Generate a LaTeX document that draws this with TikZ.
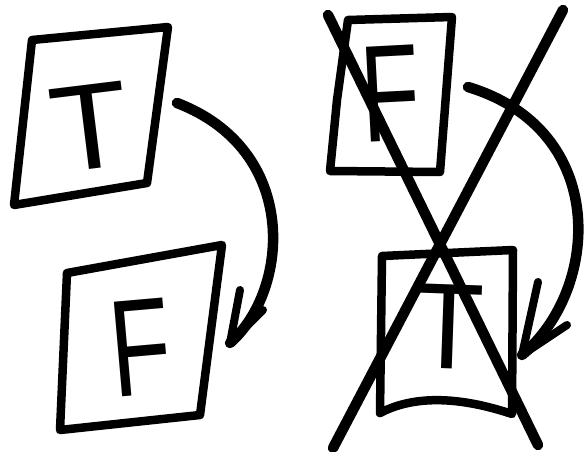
\documentclass[tikz,border=0pt]{standalone}
\usepackage{fontspec}
\setmainfont{Liberation Sans}

\begin{document}
\begin{tikzpicture}[x=1pt,y=-1pt,line cap=round,line join=round,
 card/.style={draw,line width=8.5pt},
 pen/.style={draw,line width=10.5pt},
 letter/.style={inner sep=0pt,font=\fontsize{122}{122}\selectfont}]
 \useasboundingbox (0,0) rectangle (584,452);
 % left: T card flips to F card
 \draw[card] (32,40) -- (168,27) -- (147,183) -- (14,205) -- cycle;
 \node[letter,rotate=7,xscale=1.05] (lt) at (90,127) {T};
 \draw[card] (67,273) -- (222,245) -- (200,415) -- (60,430) -- cycle;
 \node[letter,rotate=5,xscale=.72,font=\fontsize{138}{138}\selectfont] (lf) at (141,348) {F};
 \coordinate (lfrom) at (177,103);
 \coordinate (ltip) at (230,343);
 \draw[pen] (lfrom) .. controls (300,150) and (290,290) .. (ltip);
 \draw[pen,line width=8pt] (240,290) -- (ltip) -- (263,310);
 % right: F card flips to T card, crossed out
 \draw[card] (348,20) -- (452,17) -- (440,172) -- (330,171) -- (337,100) -- cycle;
 \node[letter,rotate=3,xscale=.7,font=\fontsize{138}{138}\selectfont] (rf) at (390,94) {F};
 \draw[card] (382,256) -- (513,250) -- (512,414)
   .. controls (470,400) and (420,392) .. (380,413) -- cycle;
 \node[letter,rotate=-2,xscale=.95] (rt) at (448,327) {T};
 \coordinate (rfrom) at (468,87);
 \coordinate (rtip) at (522,355);
 \draw[pen] (rfrom) .. controls (610,130) and (600,290) .. (rtip);
 \draw[pen,line width=8pt] (538,282) -- (rtip) -- (567,325);
 \draw[pen] (328,15) -- (538,445);
 \draw[pen] (563,10) -- (333,448);
\end{tikzpicture}
\end{document}
